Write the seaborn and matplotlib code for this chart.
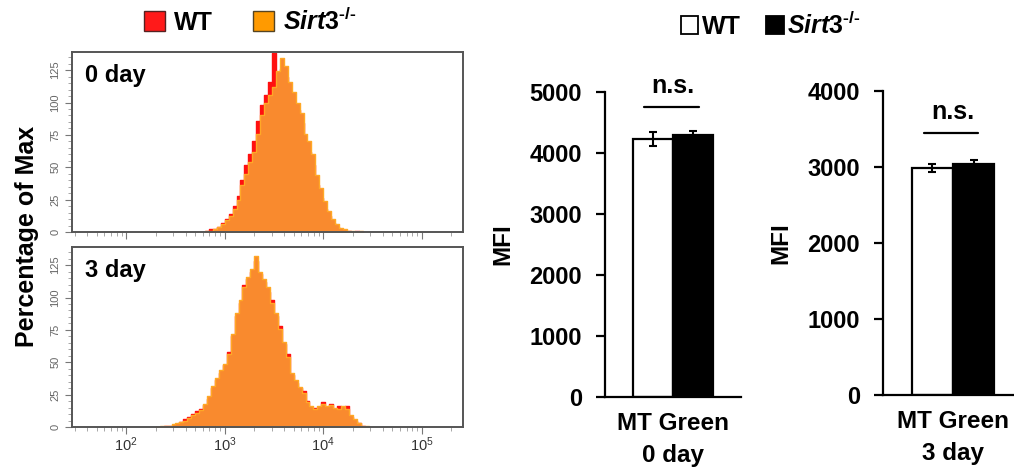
import numpy as np
import pandas as pd
import matplotlib
matplotlib.use("Agg")
import matplotlib.pyplot as plt
from matplotlib.patches import Patch
from matplotlib.ticker import MultipleLocator, LogLocator, NullFormatter, FixedLocator
import seaborn as sns

# -------------------------
# Data
# -------------------------
# flow histograms, % of max, bins of 0.04 decades (log10 of intensity)
BIN_W = 0.04
day0_start = 2.80
day0_wt = [1, 2, 2, 4, 7, 10, 14, 20, 28, 40, 52, 60, 70, 86, 98, 106, 116, 138, 118, 126,
           120, 108, 100, 94, 84, 70, 62, 52, 36, 26, 18, 12, 7, 4, 2, 1, 1, 0, 1, 0]
day0_ko = [1, 1, 2, 4, 6, 9, 12, 18, 25, 36, 45, 54, 62, 76, 90, 100, 106, 112, 124, 134,
           128, 116, 108, 100, 92, 76, 70, 60, 44, 34, 24, 16, 10, 6, 3, 2, 1, 1, 0, 1]

day3_start = 2.30
day3_wt = [0, 0, 1, 1, 1, 2, 4, 6, 8, 10, 12, 14, 17, 22, 30, 36, 42, 48, 58, 70,
           86, 96, 110, 114, 120, 128, 118, 112, 104, 98, 86, 78, 64, 56, 40, 34, 30, 28, 20, 15,
           15, 14, 19, 15, 18, 14, 16, 15, 16, 8, 5, 3, 1, 0]
day3_ko = [0, 1, 1, 1, 2, 3, 4, 5, 7, 9, 11, 13, 18, 24, 32, 38, 44, 49, 56, 72,
           88, 98, 108, 116, 122, 132, 120, 114, 108, 96, 88, 76, 66, 54, 42, 36, 31, 26, 19, 16,
           14, 16, 18, 16, 17, 15, 14, 16, 14, 9, 6, 3, 1, 1]

# MFI bar charts
genotypes = ["WT", "Sirt3-/-"]
mfi_day0 = [4234, 4299]
err_day0 = [115, 55]
mfi_day3 = [2991, 3039]
err_day3 = [52, 53]
bar_cats = ["MT Green\n0 day", "MT Green\n3 day"]
bar_ylim = [5000, 4000]
ns_level = [4754, 3443]

RED = "#FF1010"
ORANGE = "#F98A2E"
ORANGE_EDGE = "#FFA826"
KO_LABEL = "$\\mathit{Sirt3}^{\\mathit{\u2010/\u2010}}$"

sns.set_style("ticks")
plt.rcParams["font.family"] = ["Liberation Sans", "DejaVu Sans"]
plt.rcParams["font.weight"] = "bold"
plt.rcParams["mathtext.fontset"] = "custom"
plt.rcParams["mathtext.it"] = "Liberation Sans:italic:bold"
plt.rcParams["mathtext.rm"] = "Liberation Sans:bold"
for key in ["text.color", "axes.labelcolor", "xtick.color", "ytick.color", "axes.edgecolor"]:
    plt.rcParams[key] = "black"

W, H = 1014, 468
fig = plt.figure(figsize=(W / 100, H / 100), dpi=100)


def px_axes(left, top, right, bottom):
    return fig.add_axes([left / W, 1 - bottom / H, (right - left) / W, (bottom - top) / H])


# -------------------------
# Histograms
# -------------------------
def draw_hist(ax, start, wt, ko, tag, show_labels):
    n = len(wt)
    edges = start + BIN_W * np.arange(n + 1)
    centers = 10 ** (edges[:-1] + BIN_W / 2)
    df = pd.DataFrame({"x": np.concatenate([centers, centers]),
                       "pct": wt + ko,
                       "geno": ["WT"] * n + ["KO"] * n})
    for g, fc, ec in [("WT", RED, RED), ("KO", ORANGE, ORANGE_EDGE)]:
        sub = df[df["geno"] == g]
        sns.histplot(data=sub, x="x", weights="pct", bins=edges.tolist(), log_scale=True,
                     element="step", fill=True, color=fc, edgecolor=ec,
                     alpha=1, linewidth=1.0, ax=ax)
    ax.set_xlim(10 ** 1.45, 262144)
    ax.set_ylim(0, 139)
    ax.set_xlabel("")
    ax.set_ylabel("")
    for s in ax.spines.values():
        s.set_visible(True)
        s.set_color("#555555")
        s.set_linewidth(1.4)
    ax.xaxis.set_major_locator(FixedLocator([1e2, 1e3, 1e4, 1e5]))
    ax.xaxis.set_minor_locator(LogLocator(base=10, subs=np.arange(2, 10)))
    ax.xaxis.set_minor_formatter(NullFormatter())
    ax.yaxis.set_major_locator(FixedLocator([0, 25, 50, 75, 100, 125]))
    ax.yaxis.set_minor_locator(MultipleLocator(5))
    ax.tick_params(axis="both", which="major", length=5, width=0.8, color="#777777",
                   labelsize=8, labelcolor="#666666")
    ax.tick_params(axis="both", which="minor", length=3, width=0.6, color="#999999")
    ax.tick_params(axis="x", labelsize=10.5, labelcolor="#333333", pad=1)
    for lab in ax.get_yticklabels():
        lab.set_rotation(90)
        lab.set_va("center")
        lab.set_fontweight("normal")
    if not show_labels:
        ax.set_xticklabels([])
    else:
        for lab in ax.get_xticklabels():
            lab.set_fontweight("normal")
    ax.text(0.033, 0.935, tag, transform=ax.transAxes, ha="left", va="top",
            fontsize=17, fontweight="bold")


ax_h0 = px_axes(72, 52, 463, 232)
draw_hist(ax_h0, day0_start, day0_wt, day0_ko, "0 day", False)
ax_h1 = px_axes(72, 247, 463, 427)
draw_hist(ax_h1, day3_start, day3_wt, day3_ko, "3 day", True)

fig.text(27 / W, 1 - 236 / H, "Percentage of Max", rotation=90, ha="center", va="center",
         fontsize=18, fontweight="bold")

hist_handles = [Patch(facecolor="#FF1A1A", edgecolor="#552222", linewidth=1),
                Patch(facecolor="#FF9A00", edgecolor="#554422", linewidth=1)]
fig.legend(hist_handles, ["WT", KO_LABEL], loc="center", bbox_to_anchor=(250 / W, 1 - 21 / H),
           ncol=2, frameon=False, fontsize=18, handlelength=0.85, handleheight=0.85,
           handletextpad=0.35, columnspacing=1.6, borderpad=0)


# -------------------------
# MFI bar charts
# -------------------------
def draw_bars(ax, cat, vals, errs, ymax, ns_y, barw, ns_span):
    df = pd.DataFrame({"cond": [cat, cat], "geno": genotypes, "mfi": vals})
    sns.barplot(data=df, x="cond", y="mfi", hue="geno", hue_order=genotypes,
                palette=["white", "black"], edgecolor="black", linewidth=1.6,
                width=barw, errorbar=None, legend=False, ax=ax)
    xs = sorted(p.get_x() + p.get_width() / 2 for p in ax.patches)
    ax.errorbar(xs, vals, yerr=errs, fmt="none", ecolor="black", elinewidth=1.5,
                capsize=3, capthick=1.5, zorder=5)
    sep = xs[1] - xs[0]
    ax.plot([xs[0] - ns_span[0] * sep, xs[1] + ns_span[1] * sep], [ns_y, ns_y],
            color="black", lw=1.6, clip_on=False)
    ax.text((xs[0] + xs[1]) / 2, ns_y + ymax * 0.046, "n.s.", ha="center", va="baseline",
            fontsize=18, fontweight="bold", clip_on=False)
    ax.set_ylim(0, ymax)
    ax.set_xlim(-0.5, 0.5)
    ax.yaxis.set_major_locator(MultipleLocator(1000))
    ax.set_xlabel("")
    ax.set_ylabel("MFI", fontsize=17.5, fontweight="bold", labelpad=11)
    sns.despine(ax=ax)
    ax.spines["left"].set_linewidth(1.6)
    ax.spines["bottom"].set_linewidth(1.6)
    ax.tick_params(axis="y", length=6.5, width=1.6, labelsize=17, pad=10)
    ax.tick_params(axis="x", length=0, labelsize=17.5, pad=11)
    for lab in ax.get_xticklabels():
        lab.set_linespacing(1.5)


ax_b0 = px_axes(605, 92, 741, 397)
draw_bars(ax_b0, bar_cats[0], mfi_day0, err_day0, bar_ylim[0], ns_level[0], 0.585, (0.24, 0.15))
ax_b1 = px_axes(883, 91, 1023, 395)
draw_bars(ax_b1, bar_cats[1], mfi_day3, err_day3, bar_ylim[1], ns_level[1], 0.586, (0.2, 0.12))

bar_handles = [Patch(facecolor="white", edgecolor="black", linewidth=1.3),
               Patch(facecolor="black", edgecolor="black", linewidth=1.3)]
fig.legend(bar_handles, ["WT", KO_LABEL], loc="center", bbox_to_anchor=(771 / W, 1 - 25 / H),
           ncol=2, frameon=False, fontsize=18, handlelength=0.7, handleheight=0.7,
           handletextpad=0.15, columnspacing=1.0, borderpad=0)

fig.savefig("out.png", dpi=100)
